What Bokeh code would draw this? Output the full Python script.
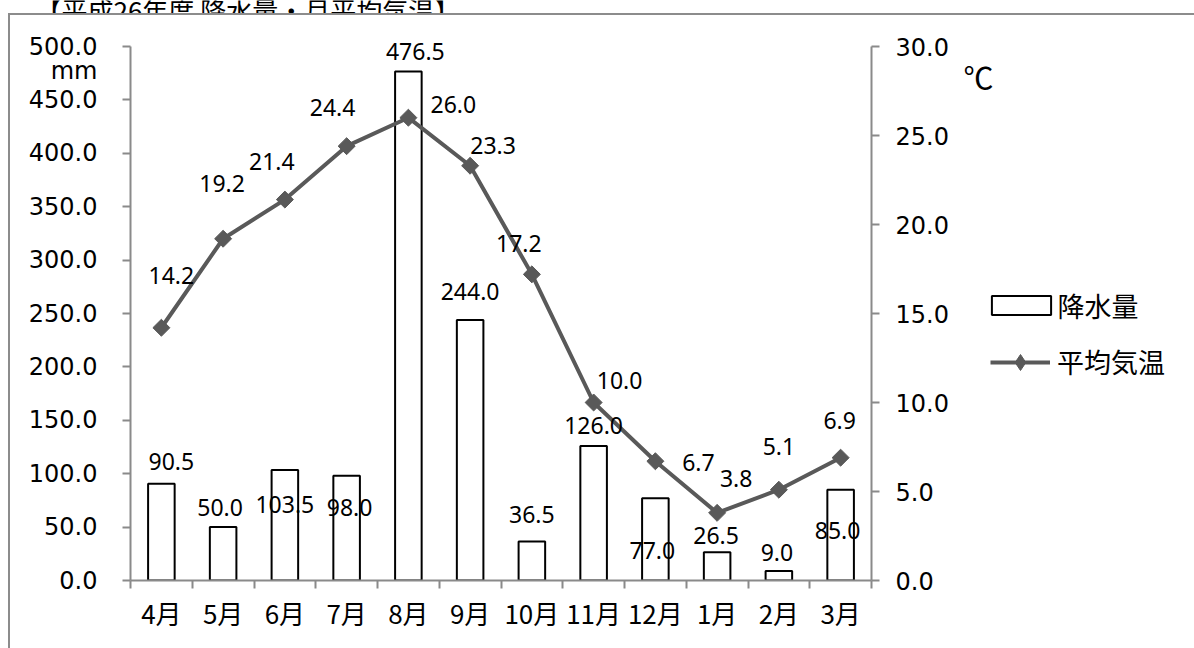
import math
from bokeh.plotting import figure
from bokeh.layouts import column, row
from bokeh.models import (Range1d, LinearAxis, FixedTicker, PrintfTickFormatter,
                          ColumnDataSource, LabelSet, Label, Legend, LegendItem)
from bokeh.embed import file_html
from bokeh.resources import INLINE
from bokeh.core.properties import value

# ---------------- data ----------------
months = ["4月", "5月", "6月", "7月", "8月", "9月", "10月", "11月", "12月", "1月", "2月", "3月"]
precip = [90.5, 50.0, 103.5, 98.0, 476.5, 244.0, 36.5, 126.0, 77.0, 26.5, 9.0, 85.0]
temp = [14.2, 19.2, 21.4, 24.4, 26.0, 23.3, 17.2, 10.0, 6.7, 3.8, 5.1, 6.9]
left_ticks = [0, 50, 100, 150, 200, 250, 300, 350, 400, 450, 500]
right_ticks = [0, 5, 10, 15, 20, 25, 30]
title_text = "【平成26年度 降水量・月平均気温】"
series_names = ["降水量", "平均気温"]
unit_left = "mm"
unit_right = "℃"

# label placement offsets (screen px, layout only)
bar_dx = [10, -3, 0, 3, 7, 0, 0, 0, -3, -1, -2, -3]
bar_dy = [22, 20, -35, -32, 20, 28, 27, 20, -52, 17, 18, -41]
tmp_dx = [10, -1, -13, -14, 45, 23, -13, 26, 43, 19, 0, -1]
tmp_dy = [52, 55, 38, 39, 13, 20, 31, 22, -1, 34, 43, 37]
MM_AT = 477.5  # vertical place of the "mm" unit on the left scale

xs = [i + 0.5 for i in range(len(months))]

src = ColumnDataSource(dict(
    x=xs, precip=precip, temp=temp,
    plab=["%.1f" % v for v in precip], tlab=["%.1f" % v for v in temp],
    bdx=bar_dx, bdy=bar_dy, tdx=tmp_dx, tdy=tmp_dy,
))

AX = "#8a8a8a"
BORDER = "#8c8c8c"
LINE = "#595959"
NUMFONT = "DejaVu Sans"
JPFONT = "Noto Sans CJK JP"
LBLFONT = "Noto Sans"

# geometry (px)
TOP_H = 13                       # strip above the chart border (title)
MAIN_W, SIDE_W = 960, 234
BODY_H = 648 - TOP_H
FRAME_H = 580 - TOP_H            # plot area from chart top to the 0 line
SCALE_TOP = FRAME_H / 534.0      # range extension so that 500 / 30 sit 46px from the page top


def bg(lines):
    parts = ["linear-gradient(%s,%s) %s no-repeat" % (BORDER, BORDER, l) for l in lines]
    return {"background": ", ".join(parts + ["#ffffff"])}


# ---------------- title strip ----------------
t = figure(width=1194, height=TOP_H, x_range=Range1d(0, 1194), y_range=Range1d(0, TOP_H),
           output_backend="svg", toolbar_location=None, x_axis_location=None,
           y_axis_location=None, min_border=0)
t.grid.visible = False
t.outline_line_color = None
t.add_layout(Label(x=35, y=4, text=title_text, text_align="left", text_baseline="alphabetic",
                   text_font=JPFONT, text_font_size="26px", text_color="black"))

# ---------------- main chart ----------------
p = figure(width=MAIN_W, height=BODY_H, x_range=Range1d(0, 12),
           y_range=Range1d(0, 500 * SCALE_TOP),
           output_backend="svg", toolbar_location=None,
           min_border_left=130, min_border_right=MAIN_W - 871, min_border_top=0,
           min_border_bottom=BODY_H - FRAME_H)
p.extra_y_ranges = {"temp": Range1d(0, 30 * SCALE_TOP)}
p.xgrid.visible = False
p.ygrid.visible = False
p.outline_line_color = None
p.background_fill_color = None
p.border_fill_color = None
p.styles = bg(["8px 0px / 100% 2px", "8px 0px / 2px 100%"])

# left axis (major ticks carry labels, minor ticks are the visible tick marks)
ya = p.yaxis[0]
ya.ticker = FixedTicker(ticks=left_ticks + [MM_AT], minor_ticks=left_ticks)
ya.formatter = PrintfTickFormatter(format="%.1f")
ya.major_label_overrides = {MM_AT: unit_left}
ya.bounds = (left_ticks[0], left_ticks[-1])
ya.axis_line_color = AX
ya.axis_line_width = 2
ya.major_tick_line_color = None
ya.major_tick_out = 8
ya.major_tick_in = 0
ya.minor_tick_line_color = AX
ya.minor_tick_line_width = 2
ya.minor_tick_out = 8
ya.minor_tick_in = 0
ya.major_label_text_font = NUMFONT
ya.major_label_text_font_size = "24px"
ya.major_label_text_color = "black"
ya.major_label_standoff = 25

# right axis
ra = LinearAxis(y_range_name="temp", ticker=FixedTicker(ticks=right_ticks, minor_ticks=[]),
                formatter=PrintfTickFormatter(format="%.1f"),
                bounds=(right_ticks[0], right_ticks[-1]))
ra.axis_line_color = AX
ra.axis_line_width = 2
ra.major_tick_line_color = AX
ra.major_tick_line_width = 2
ra.major_tick_out = 8
ra.major_tick_in = 0
ra.minor_tick_line_color = None
ra.major_label_text_font = NUMFONT
ra.major_label_text_font_size = "24px"
ra.major_label_text_color = "black"
ra.major_label_standoff = 16
p.add_layout(ra, "right")

# bottom axis
xa = p.xaxis[0]
xa.ticker = FixedTicker(ticks=xs, minor_ticks=list(range(len(months) + 1)))
xa.major_label_overrides = {x: m for x, m in zip(xs, months)}
xa.axis_line_color = AX
xa.axis_line_width = 2
xa.major_tick_line_color = None
xa.major_tick_out = 3
xa.major_tick_in = 0
xa.minor_tick_line_color = AX
xa.minor_tick_line_width = 2
xa.minor_tick_out = 8
xa.minor_tick_in = 0
xa.major_label_text_font = JPFONT
xa.major_label_text_font_size = "26px"
xa.major_label_text_color = "black"
xa.major_label_standoff = 5

bar_style = dict(fill_color="white", line_color="black", line_width=2)
bars = p.vbar(x="x", top="precip", width=0.43, source=src, **bar_style)
ln = p.line(x="x", y="temp", source=src, y_range_name="temp", line_color=LINE, line_width=4)
pts = p.scatter(x="x", y="temp", source=src, y_range_name="temp", marker="square",
                angle=math.pi / 4, size=12, fill_color=LINE, line_color=LINE)

p.add_layout(LabelSet(x="x", y="precip", text="plab", source=src, x_offset="bdx", y_offset="bdy",
                      text_align="center", text_baseline="middle", text_font=value(LBLFONT),
                      text_font_size="23px", text_color="black"))
p.add_layout(LabelSet(x="x", y="temp", text="tlab", source=src, x_offset="tdx", y_offset="tdy",
                      y_range_name="temp", text_align="center", text_baseline="middle",
                      text_font=value(LBLFONT), text_font_size="23px", text_color="black"))

# ---------------- side panel: unit + legend ----------------
# (its plot area is aligned with the main plot area: page y 13 .. 580)
s = figure(width=SIDE_W, height=BODY_H, x_range=Range1d(0, SIDE_W), y_range=Range1d(0, FRAME_H),
           output_backend="svg", toolbar_location=None, x_axis_location=None,
           y_axis_location=None, min_border=0)
s.grid.visible = False
s.outline_line_color = None
s.background_fill_color = None
s.border_fill_color = None
s.styles = bg(["0px 0px / 100% 2px"])

s.add_layout(Label(x=3, y=580 - 75, text=unit_right, text_align="left",
                   text_baseline="middle", text_font=JPFONT, text_font_size="30px",
                   text_color="black"))

# legend swatches: renderers with one undrawable (NaN) point, styled like the marks
NAN = float("nan")
lb = s.vbar(x=[NAN], top=[NAN], width=1, **bar_style)
ll = s.line(x=[NAN, NAN], y=[NAN, NAN], line_color=LINE, line_width=4)
lp = s.scatter(x=[NAN], y=[NAN], marker="diamond", size=12, fill_color=LINE, line_color=LINE)

common = dict(padding=0, margin=0, border_line_color=None, background_fill_alpha=0,
              label_text_font=JPFONT, label_text_font_size="27px", label_text_color="black",
              label_height=30)
s.add_layout(Legend(items=[LegendItem(label=series_names[0], renderers=[lb])],
                    location=(23.6, 580 - 324.5), glyph_width=74, glyph_height=24,
                    label_standoff=0, **common))
s.add_layout(Legend(items=[LegendItem(label=series_names[1], renderers=[ll, lp])],
                    location=(30, 580 - 381.7), glyph_width=60, glyph_height=40,
                    label_standoff=7, **common))

layout = column(t, row(p, s, spacing=0), spacing=0)

open("out.html", "w").write(file_html(layout, INLINE))
